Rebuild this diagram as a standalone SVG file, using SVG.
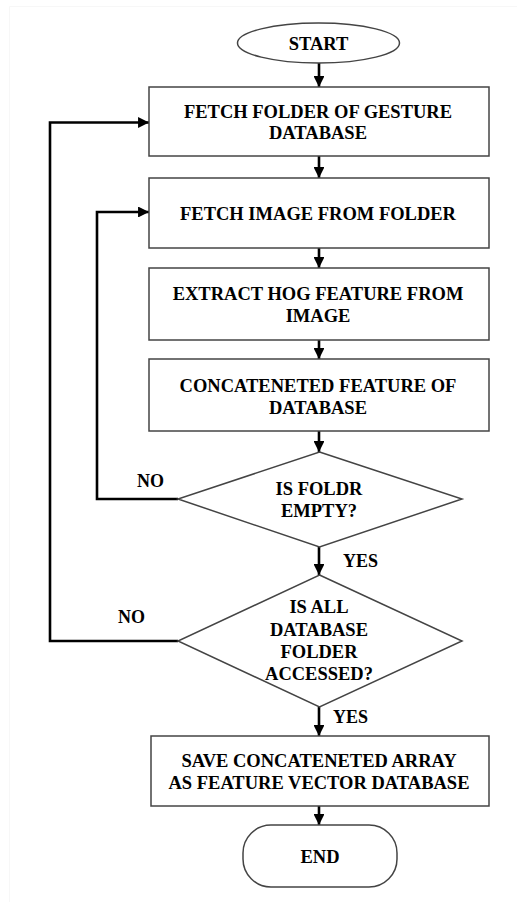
<svg xmlns="http://www.w3.org/2000/svg" width="517" height="902" viewBox="0 0 517 902">
  <style>
    .box { fill: #ffffff; stroke: #444444; stroke-width: 1.5; }
    .flow { fill: none; stroke: #000000; stroke-width: 2.6; }
    .lbl { font-family: "Liberation Serif", "Times New Roman", serif; font-weight: bold; font-size: 18.5px; fill: #000000; text-anchor: middle; }
    .side { font-family: "Liberation Serif", "Times New Roman", serif; font-weight: bold; font-size: 18px; fill: #000000; }
  </style>
  <defs>
    <marker id="head" viewBox="0 0 10 10" refX="10" refY="5" markerWidth="4.2" markerHeight="4.2" markerUnits="strokeWidth" orient="auto">
      <path d="M0,0 L10,5 L0,10 Z" fill="#000000"/>
    </marker>
  </defs>

  <rect x="0" y="0" width="517" height="902" fill="#ffffff"/>
  <!-- faint page edge -->
  <path d="M9.5,902 V6.5 H517" fill="none" stroke="#f7f7f7" stroke-width="1"/>

  <g id="connectors">
    <line class="flow" x1="319" y1="63" x2="319" y2="87" marker-end="url(#head)"/>
    <line class="flow" x1="319" y1="156" x2="319" y2="178" marker-end="url(#head)"/>
    <line class="flow" x1="319" y1="248" x2="319" y2="268" marker-end="url(#head)"/>
    <line class="flow" x1="319" y1="340" x2="319" y2="359" marker-end="url(#head)"/>
    <line class="flow" x1="319" y1="431" x2="319" y2="452" marker-end="url(#head)"/>
    <line class="flow" x1="319" y1="547" x2="319" y2="575" marker-end="url(#head)"/>
    <line class="flow" x1="319" y1="707" x2="319" y2="736" marker-end="url(#head)"/>
    <line class="flow" x1="319" y1="806" x2="319" y2="825" marker-end="url(#head)"/>
    <!-- NO: back to fetch image -->
    <polyline class="flow" points="178,499 97,499 97,212 149,212" marker-end="url(#head)"/>
    <!-- NO: back to fetch folder -->
    <polyline class="flow" points="178,641 50,641 50,122.5 149,122.5" marker-end="url(#head)"/>
    <text class="side" x="137" y="487">NO</text>
    <text class="side" x="343" y="567">YES</text>
    <text class="side" x="118" y="623">NO</text>
    <text class="side" x="333" y="723">YES</text>
  </g>

  <g id="start">
    <ellipse class="box" cx="318.5" cy="43" rx="81" ry="20"/>
    <text class="lbl" x="318.5" y="49.5">START</text>
  </g>

  <g id="fetch-folder">
    <rect class="box" x="149" y="87" width="340" height="69"/>
    <text class="lbl" x="318" y="118">FETCH FOLDER OF GESTURE</text>
    <text class="lbl" x="318" y="138.5">DATABASE</text>
  </g>

  <g id="fetch-image">
    <rect class="box" x="149" y="178" width="340" height="70"/>
    <text class="lbl" x="318" y="220">FETCH IMAGE FROM FOLDER</text>
  </g>

  <g id="extract-hog">
    <rect class="box" x="149" y="268" width="340" height="72"/>
    <text class="lbl" x="318" y="300">EXTRACT HOG FEATURE FROM</text>
    <text class="lbl" x="318" y="322">IMAGE</text>
  </g>

  <g id="concat-feature">
    <rect class="box" x="149" y="359" width="340" height="72"/>
    <text class="lbl" x="318" y="392">CONCATENETED FEATURE OF</text>
    <text class="lbl" x="318" y="413.5">DATABASE</text>
  </g>

  <g id="folder-empty">
    <polygon class="box" points="319.5,452 462,499 319.5,547 178,499"/>
    <text class="lbl" x="319" y="495">IS FOLDR</text>
    <text class="lbl" x="319" y="517">EMPTY?</text>
  </g>

  <g id="all-accessed">
    <polygon class="box" points="319.5,575 462,641 319.5,707 178,641"/>
    <text class="lbl" x="319" y="613">IS ALL</text>
    <text class="lbl" x="319" y="636">DATABASE</text>
    <text class="lbl" x="319" y="658">FOLDER</text>
    <text class="lbl" x="319" y="680">ACCESSED?</text>
  </g>

  <g id="save-vector">
    <rect class="box" x="151" y="736" width="338" height="70"/>
    <text class="lbl" x="319" y="767">SAVE CONCATENETED ARRAY</text>
    <text class="lbl" x="319" y="788.5">AS FEATURE VECTOR DATABASE</text>
  </g>

  <g id="end">
    <rect class="box" x="243" y="825" width="154" height="62" rx="28" ry="28"/>
    <text class="lbl" x="320" y="862.5">END</text>
  </g>
</svg>
